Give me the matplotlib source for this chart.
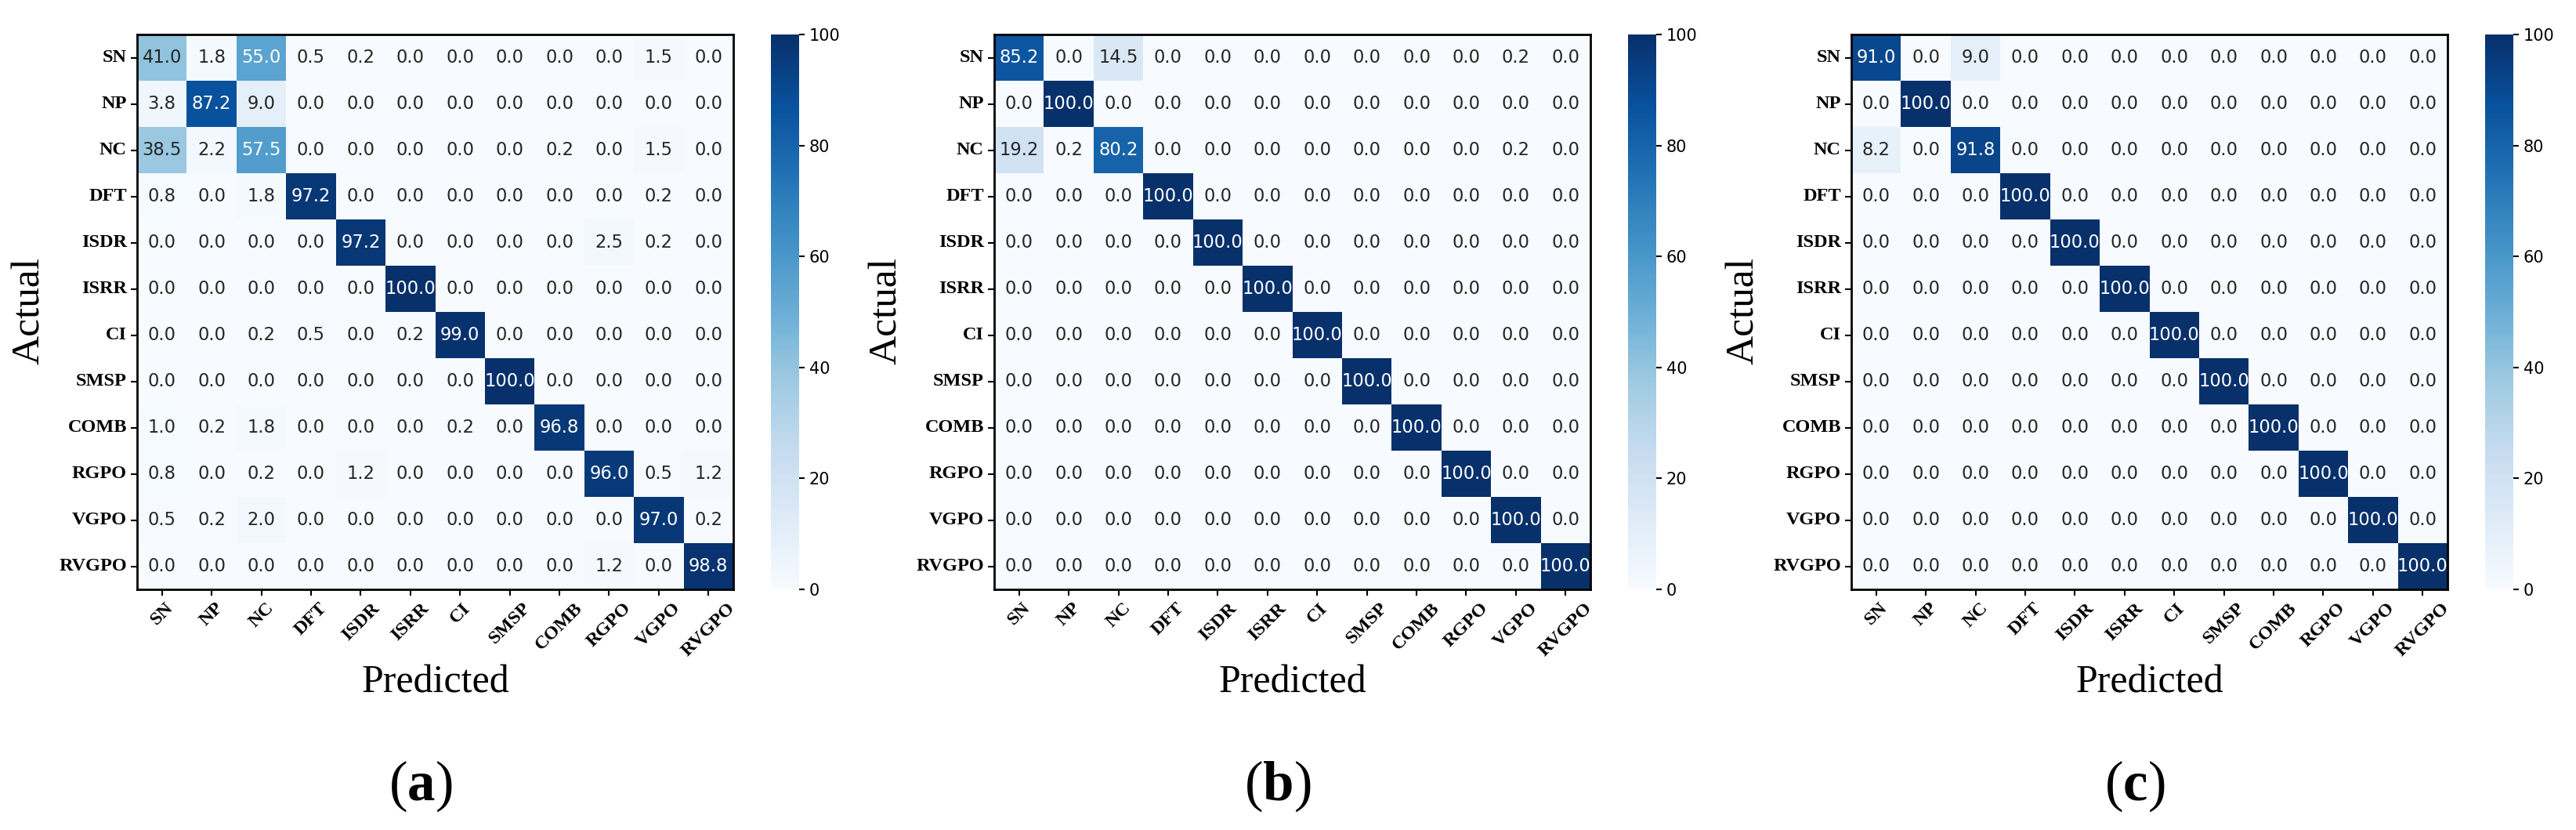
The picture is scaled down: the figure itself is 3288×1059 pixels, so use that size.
import numpy as np
import matplotlib
matplotlib.use("Agg")
import matplotlib.pyplot as plt
import seaborn as sns

labels = ['SN', 'NP', 'NC', 'DFT', 'ISDR', 'ISRR', 'CI', 'SMSP', 'COMB', 'RGPO', 'VGPO', 'RVGPO']

cm_a = [
    [41.0, 1.8, 55.0, 0.5, 0.2, 0.0, 0.0, 0.0, 0.0, 0.0, 1.5, 0.0],
    [3.8, 87.2, 9.0, 0.0, 0.0, 0.0, 0.0, 0.0, 0.0, 0.0, 0.0, 0.0],
    [38.5, 2.2, 57.5, 0.0, 0.0, 0.0, 0.0, 0.0, 0.2, 0.0, 1.5, 0.0],
    [0.8, 0.0, 1.8, 97.2, 0.0, 0.0, 0.0, 0.0, 0.0, 0.0, 0.2, 0.0],
    [0.0, 0.0, 0.0, 0.0, 97.2, 0.0, 0.0, 0.0, 0.0, 2.5, 0.2, 0.0],
    [0.0, 0.0, 0.0, 0.0, 0.0, 100.0, 0.0, 0.0, 0.0, 0.0, 0.0, 0.0],
    [0.0, 0.0, 0.2, 0.5, 0.0, 0.2, 99.0, 0.0, 0.0, 0.0, 0.0, 0.0],
    [0.0, 0.0, 0.0, 0.0, 0.0, 0.0, 0.0, 100.0, 0.0, 0.0, 0.0, 0.0],
    [1.0, 0.2, 1.8, 0.0, 0.0, 0.0, 0.2, 0.0, 96.8, 0.0, 0.0, 0.0],
    [0.8, 0.0, 0.2, 0.0, 1.2, 0.0, 0.0, 0.0, 0.0, 96.0, 0.5, 1.2],
    [0.5, 0.2, 2.0, 0.0, 0.0, 0.0, 0.0, 0.0, 0.0, 0.0, 97.0, 0.2],
    [0.0, 0.0, 0.0, 0.0, 0.0, 0.0, 0.0, 0.0, 0.0, 1.2, 0.0, 98.8],
]

cm_b = [
    [85.2, 0.0, 14.5, 0.0, 0.0, 0.0, 0.0, 0.0, 0.0, 0.0, 0.2, 0.0],
    [0.0, 100.0, 0.0, 0.0, 0.0, 0.0, 0.0, 0.0, 0.0, 0.0, 0.0, 0.0],
    [19.2, 0.2, 80.2, 0.0, 0.0, 0.0, 0.0, 0.0, 0.0, 0.0, 0.2, 0.0],
    [0.0, 0.0, 0.0, 100.0, 0.0, 0.0, 0.0, 0.0, 0.0, 0.0, 0.0, 0.0],
    [0.0, 0.0, 0.0, 0.0, 100.0, 0.0, 0.0, 0.0, 0.0, 0.0, 0.0, 0.0],
    [0.0, 0.0, 0.0, 0.0, 0.0, 100.0, 0.0, 0.0, 0.0, 0.0, 0.0, 0.0],
    [0.0, 0.0, 0.0, 0.0, 0.0, 0.0, 100.0, 0.0, 0.0, 0.0, 0.0, 0.0],
    [0.0, 0.0, 0.0, 0.0, 0.0, 0.0, 0.0, 100.0, 0.0, 0.0, 0.0, 0.0],
    [0.0, 0.0, 0.0, 0.0, 0.0, 0.0, 0.0, 0.0, 100.0, 0.0, 0.0, 0.0],
    [0.0, 0.0, 0.0, 0.0, 0.0, 0.0, 0.0, 0.0, 0.0, 100.0, 0.0, 0.0],
    [0.0, 0.0, 0.0, 0.0, 0.0, 0.0, 0.0, 0.0, 0.0, 0.0, 100.0, 0.0],
    [0.0, 0.0, 0.0, 0.0, 0.0, 0.0, 0.0, 0.0, 0.0, 0.0, 0.0, 100.0],
]

cm_c = [
    [91.0, 0.0, 9.0, 0.0, 0.0, 0.0, 0.0, 0.0, 0.0, 0.0, 0.0, 0.0],
    [0.0, 100.0, 0.0, 0.0, 0.0, 0.0, 0.0, 0.0, 0.0, 0.0, 0.0, 0.0],
    [8.2, 0.0, 91.8, 0.0, 0.0, 0.0, 0.0, 0.0, 0.0, 0.0, 0.0, 0.0],
    [0.0, 0.0, 0.0, 100.0, 0.0, 0.0, 0.0, 0.0, 0.0, 0.0, 0.0, 0.0],
    [0.0, 0.0, 0.0, 0.0, 100.0, 0.0, 0.0, 0.0, 0.0, 0.0, 0.0, 0.0],
    [0.0, 0.0, 0.0, 0.0, 0.0, 100.0, 0.0, 0.0, 0.0, 0.0, 0.0, 0.0],
    [0.0, 0.0, 0.0, 0.0, 0.0, 0.0, 100.0, 0.0, 0.0, 0.0, 0.0, 0.0],
    [0.0, 0.0, 0.0, 0.0, 0.0, 0.0, 0.0, 100.0, 0.0, 0.0, 0.0, 0.0],
    [0.0, 0.0, 0.0, 0.0, 0.0, 0.0, 0.0, 0.0, 100.0, 0.0, 0.0, 0.0],
    [0.0, 0.0, 0.0, 0.0, 0.0, 0.0, 0.0, 0.0, 0.0, 100.0, 0.0, 0.0],
    [0.0, 0.0, 0.0, 0.0, 0.0, 0.0, 0.0, 0.0, 0.0, 0.0, 100.0, 0.0],
    [0.0, 0.0, 0.0, 0.0, 0.0, 0.0, 0.0, 0.0, 0.0, 0.0, 0.0, 100.0],
]

panel_tags = ['a', 'b', 'c']
cbar_ticks = [0, 20, 40, 60, 80, 100]

plt.rcParams['mathtext.fontset'] = 'custom'
plt.rcParams['mathtext.rm'] = 'Liberation Serif'
plt.rcParams['mathtext.bf'] = 'Liberation Serif:bold'

W, H = 3288, 1059
fig = plt.figure(figsize=(W / 100, H / 100), dpi=100)


def px_axes(x0, y0, x1, y1):
    return fig.add_axes([x0 / W, 1 - y1 / H, (x1 - x0) / W, (y1 - y0) / H])


serif = 'Liberation Serif'
offset = 1094
for i, (tag, cm) in enumerate(zip(panel_tags, [cm_a, cm_b, cm_c])):
    dx = i * offset
    ax = px_axes(175 + dx, 44, 936 + dx, 752)
    cax = px_axes(984 + dx, 44, 1020 + dx, 752)
    sns.heatmap(np.array(cm), annot=True, fmt='.1f', cmap='Blues', vmin=0, vmax=100,
                ax=ax, cbar_ax=cax, xticklabels=labels, yticklabels=labels,
                annot_kws=dict(fontsize=16.3, family='DejaVu Sans'))
    for s in ax.spines.values():
        s.set_visible(True)
        s.set_linewidth(2.0)
        s.set_color('black')
    ax.tick_params(axis='both', length=5.5, width=1.5, pad=4)
    ax.set_xticklabels(labels, rotation=45, ha='center', fontsize=17.5,
                       fontweight='bold', family=serif)
    ax.set_yticklabels(labels, rotation=0, fontsize=17.5, fontweight='bold', family=serif)
    ax.set_xlabel('')
    ax.set_ylabel('')

    cax.set_yticks(cbar_ticks)
    cax.tick_params(length=5, width=1.5, labelsize=15, pad=4)

    fig.text((38 + dx) / W, 1 - 397 / H, 'Actual', rotation=90, ha='center', va='center',
             fontsize=37, family=serif)
    fig.text((556 + dx) / W, 1 - 871 / H, 'Predicted', ha='center', va='center',
             fontsize=36, family=serif)
    fig.text((537 + dx) / W, 1 - 1003 / H, '(' + r'$\mathbf{' + tag + '}$' + ')',
             ha='center', va='center', fontsize=51, family=serif)

fig.savefig('out.png', dpi=100)
